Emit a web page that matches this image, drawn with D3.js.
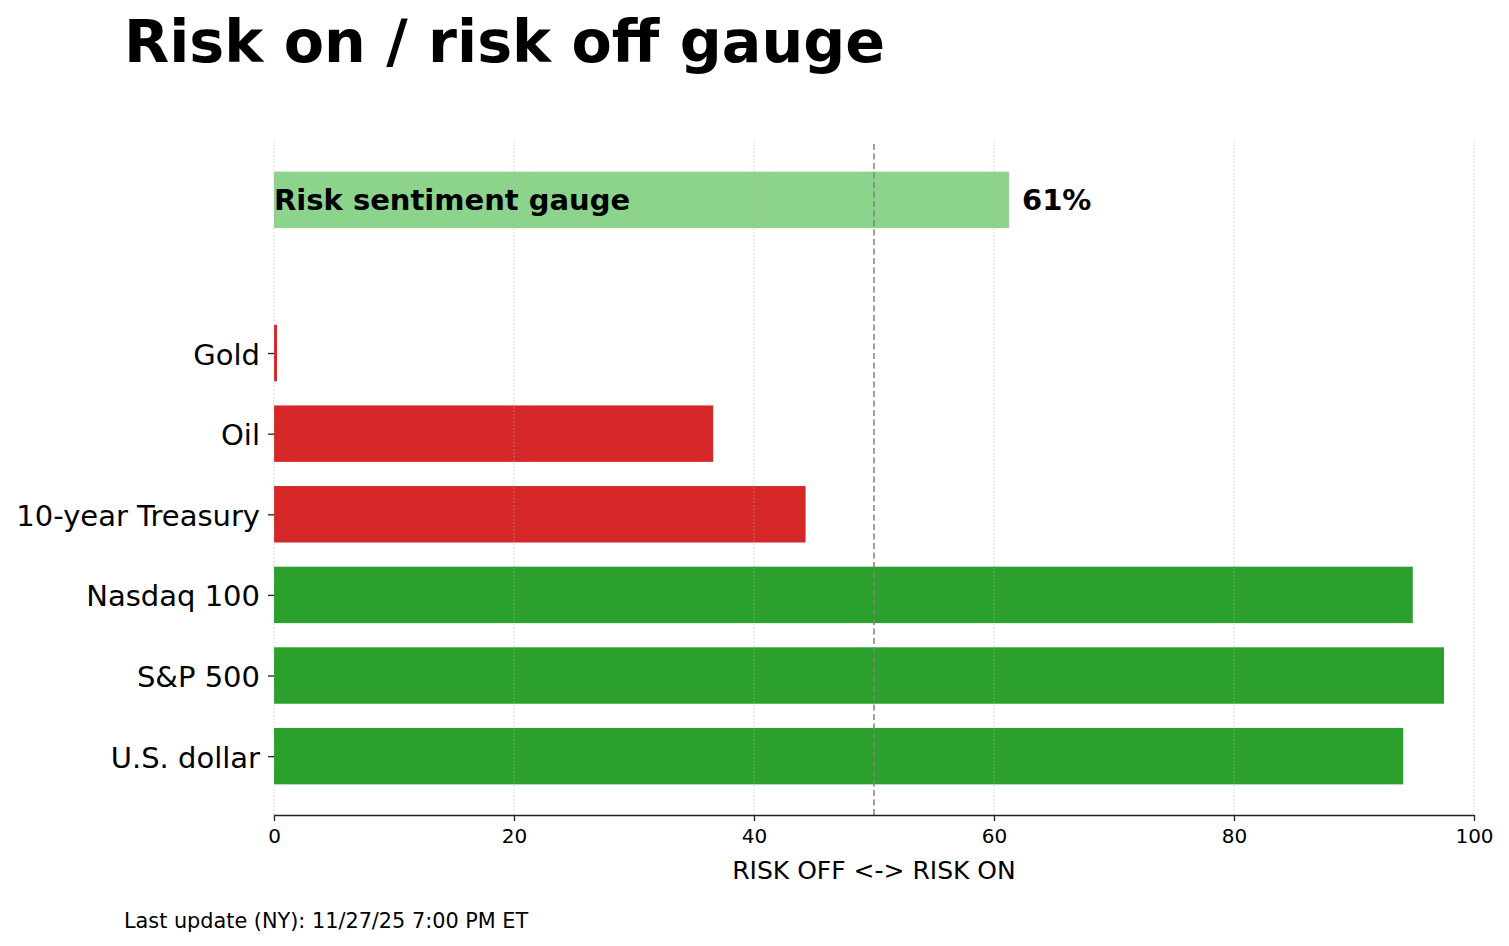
<!DOCTYPE html>
<html>
<head>
<meta charset="utf-8">
<script src="https://cdn.jsdelivr.net/npm/d3@7"></script>
<style>
  html, body { margin: 0; padding: 0; background: #fff; }
  svg { display: block; font-family: "DejaVu Sans", sans-serif; }
</style>
</head>
<body>
<svg id="chart" width="1509" height="946"></svg>
<script>
// ---- data ----
const categories = ["U.S. dollar", "S&P 500", "Nasdaq 100", "10-year Treasury", "Oil", "Gold"];
const values = [94.1, 97.5, 94.9, 44.3, 36.6, 0.25];
const signals = ["on", "on", "on", "off", "off", "off"];
const gaugeLabel = "Risk sentiment gauge";
const gaugeValue = 61.25;
const gaugeText = "61%";
const xTicks = [0, 20, 40, 60, 80, 100];
const titleText = "Risk on / risk off gauge";
const xLabel = "RISK OFF <-> RISK ON";
const footnote = "Last update (NY): 11/27/25 7:00 PM ET";

(function () {
// ---- layout ----
const svg = d3.select("#chart");
const pl = 274, pr = 1474, pt = 141, pb = 815;
const gaugePos = 6.9, barH = 0.7;

const x = d3.scaleLinear().domain([0, 100]).range([pl, pr]);
const y = d3.scaleLinear().domain([-0.73, 7.63]).range([pb, pt]);

const colorOf = s => s === "on" ? "#2ca02c" : "#d62728";

// bars
svg.append("g").selectAll("rect").data(categories).join("rect")
  .attr("x", x(0))
  .attr("y", (d, i) => y(i + barH / 2))
  .attr("width", (d, i) => x(values[i]) - x(0))
  .attr("height", y(0) - y(barH))
  .attr("fill", (d, i) => colorOf(signals[i]));

// gauge bar
svg.append("rect")
  .attr("x", x(0))
  .attr("y", y(gaugePos + barH / 2))
  .attr("width", x(gaugeValue) - x(0))
  .attr("height", y(0) - y(barH))
  .attr("fill", "#8cd48c");

// grid (on top)
svg.append("g").selectAll("line").data(xTicks).join("line")
  .attr("x1", d => x(d)).attr("x2", d => x(d))
  .attr("y1", pt).attr("y2", pb)
  .attr("stroke", "#b0b0b0").attr("stroke-opacity", 0.6)
  .attr("stroke-width", 1).attr("stroke-dasharray", "1.5,2");

// 50 dashed line
svg.append("line")
  .attr("x1", x(50)).attr("x2", x(50))
  .attr("y1", pt + 3).attr("y2", pb)
  .attr("stroke", "#808080").attr("stroke-width", 1.5)
  .attr("stroke-dasharray", "6,3.5");

// gauge texts
svg.append("text")
  .attr("x", x(0)).attr("y", y(gaugePos))
  .attr("dy", "0.36em")
  .attr("font-size", 29).attr("font-weight", "bold")
  .text(gaugeLabel);
svg.append("text")
  .attr("x", x(gaugeValue) + 13).attr("y", y(gaugePos))
  .attr("dy", "0.36em")
  .attr("font-size", 29).attr("font-weight", "bold")
  .text(gaugeText);

// x axis
const xAxis = d3.axisBottom(x).tickValues(xTicks).tickSize(6).tickPadding(8).tickFormat(d3.format("d"));
const gx = svg.append("g").attr("transform", `translate(0,${pb})`).call(xAxis);
gx.select(".domain").attr("stroke", "#222").attr("stroke-width", 1.3).attr("d", `M${pl},0.5H${pr}`);
gx.selectAll(".tick line").attr("stroke", "#222").attr("stroke-width", 1.3);
gx.selectAll(".tick text").attr("font-size", 20).attr("font-family", "DejaVu Sans").attr("fill", "#000");

// y axis
const yAxis = d3.axisLeft(y).tickValues(d3.range(categories.length)).tickFormat(i => categories[i]).tickSize(6).tickPadding(8);
const gy = svg.append("g").attr("transform", `translate(${pl},0)`).call(yAxis);
gy.select(".domain").remove();
gy.selectAll(".tick line").attr("stroke", "#222").attr("stroke-width", 1.3);
gy.selectAll(".tick text").attr("font-size", 29).attr("font-family", "DejaVu Sans").attr("fill", "#000").attr("dy", "0.38em");

// axis label
svg.append("text")
  .attr("x", x(50)).attr("y", 879)
  .attr("text-anchor", "middle")
  .attr("font-size", 25)
  .text(xLabel);

// title
svg.append("text")
  .attr("x", 124).attr("y", 62)
  .attr("font-size", 58.7).attr("font-weight", "bold")
  .text(titleText);

// footnote
svg.append("text")
  .attr("x", 124).attr("y", 928)
  .attr("font-size", 20.8)
  .text(footnote);
})();
</script>
</body>
</html>
